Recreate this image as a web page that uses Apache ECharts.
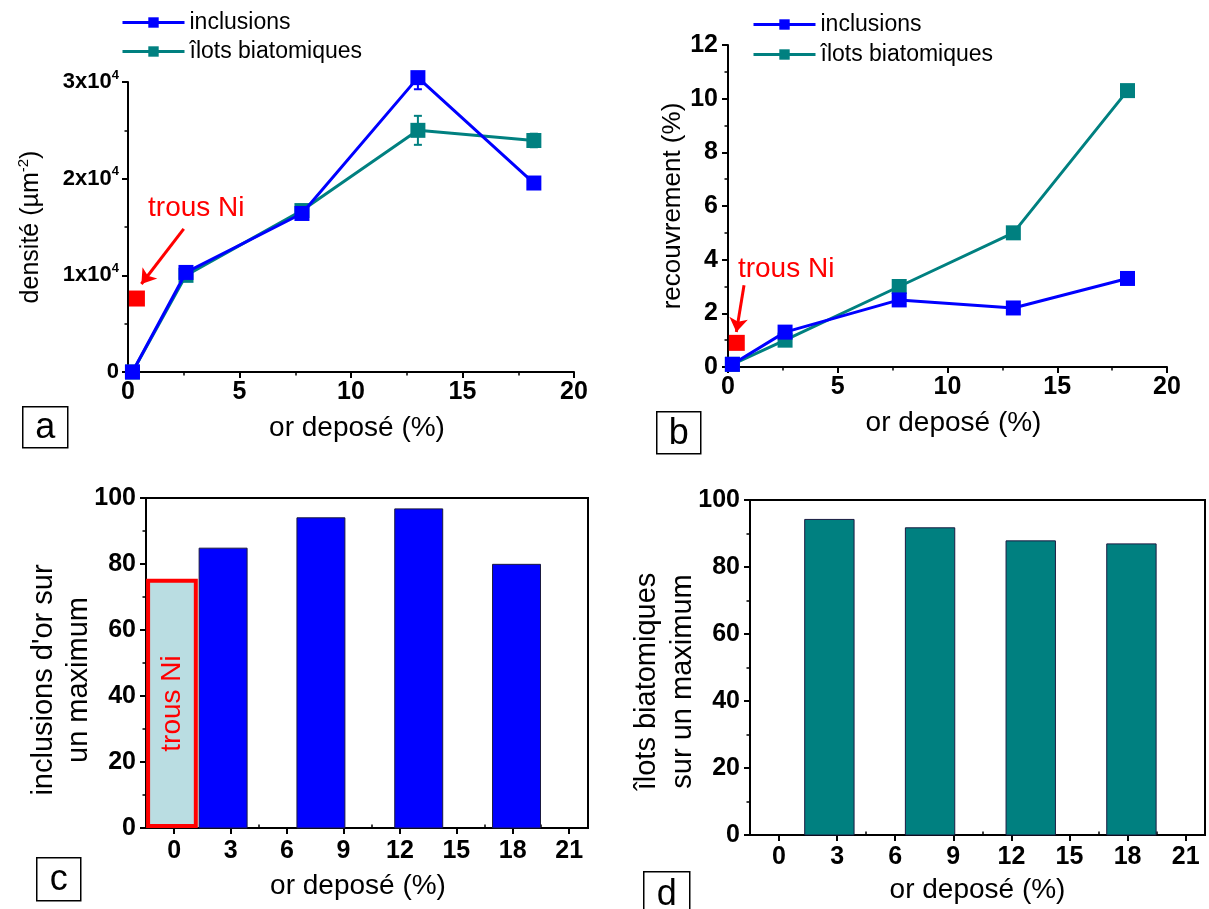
<!DOCTYPE html>
<html>
<head>
<meta charset="utf-8">
<script src="https://cdn.jsdelivr.net/npm/echarts@6/dist/echarts.min.js"></script>
<style>
  html, body { margin: 0; padding: 0; background: #fff; }
  #chart { width: 1209px; height: 909px; }
</style>
</head>
<body>
<div id="chart"></div>
<script>
// données
const X_DEPOT = [0.2, 2.6, 7.8, 13, 18.2]
const DENS_INCL = [0, 10300, 16400, 30450, 19550]
const DENS_ILOT = [0, 10000, 16700, 25000, 23950]
const DENS_INCL_ERR = [0, 300, 500, 1200, 400]
const DENS_ILOT_ERR = [0, 300, 600, 1500, 700]
const DENS_TROUS = [0.4, 7600]
const REC_INCL = [0.1, 1.3, 2.5, 2.2, 3.3]
const REC_ILOT = [0.1, 1.0, 3.0, 5.0, 10.3]
const REC_TROUS = [0.4, 0.9]

const BAR_X = [2.6, 7.8, 13, 18.2]
const INCL_MAX = [84.8, 94.0, 96.7, 79.9]
const ILOT_MAX = [94.2, 91.7, 87.8, 86.9]
const TROUS_MAX = [-0.12, 75.5]
const BAR_TICKS = [0, 3, 6, 9, 12, 15, 18, 21]
const BAR_MINOR = [1.5, 4.5, 7.5, 10.5, 13.5, 16.5, 19.5]

// annotations "trous Ni" (coordonnées en unités de données)
const LABEL_A = [0.9, 16900]
const ARROW_A = [[2.5, 14800], [0.6, 9100]]
const LABEL_B = [0.45, 3.65]
const ARROW_B = [[0.73, 3.05], [0.38, 1.3]]

const SERIES_NAMES = ['inclusions', 'îlots biatomiques']

const FONT = "'Liberation Sans', Arial, sans-serif"
const BLUE = '#0000ff'
const TEAL = '#008080'
const RED = '#ff0000'
const BAR_W = 2.55
const TROUS_W = 2.75

const pts = (xs, ys) => xs.map((x, i) => [x, ys[i]])
const errs = (xs, ys, es) => xs.map((x, i) => [x, ys[i] - es[i], ys[i] + es[i]])

const tickLabel = { color: '#000', fontFamily: FONT, fontWeight: 'bold', fontSize: 25, margin: 10 }
const axisName = { color: '#000', fontFamily: FONT, fontSize: 28 }

function valueAxis(extra) {
  return Object.assign({
    type: 'value',
    axisLine: { show: true, onZero: false, lineStyle: { color: '#000', width: 2 } },
    axisTick: { show: true, inside: false, length: 6, lineStyle: { color: '#000', width: 2 } },
    minorTick: { show: true, splitNumber: 2, length: 3.5, lineStyle: { color: '#000', width: 1.5 } },
    splitLine: { show: false },
    minorSplitLine: { show: false },
    axisLabel: tickLabel,
    nameLocation: 'middle',
    nameTextStyle: axisName
  }, extra)
}

function lineSeries(name, color, data, xi, z) {
  return {
    type: 'line', name, xAxisIndex: xi, yAxisIndex: xi, data,
    symbol: 'rect', symbolSize: 15, clip: false, z,
    lineStyle: { color, width: 3 },
    itemStyle: { color },
    emphasis: { disabled: true }
  }
}

function errorSeries(color, data, xi) {
  return {
    type: 'custom', xAxisIndex: xi, yAxisIndex: xi, data, clip: true, z: 1,
    renderItem: (params, api) => {
      const lo = api.coord([api.value(0), api.value(1)])
      const hi = api.coord([api.value(0), api.value(2)])
      const st = { stroke: color, lineWidth: 2 }
      return {
        type: 'group',
        children: [
          { type: 'line', shape: { x1: lo[0], y1: lo[1], x2: hi[0], y2: hi[1] }, style: st },
          { type: 'line', shape: { x1: lo[0] - 4, y1: lo[1], x2: lo[0] + 4, y2: lo[1] }, style: st },
          { type: 'line', shape: { x1: hi[0] - 4, y1: hi[1], x2: hi[0] + 4, y2: hi[1] }, style: st }
        ]
      }
    }
  }
}

function trousSeries(point, label, arrow, xi) {
  return {
    type: 'scatter', name: 'trous Ni', xAxisIndex: xi, yAxisIndex: xi,
    data: [point], symbol: 'rect', symbolSize: 16, z: 5,
    itemStyle: { color: RED, opacity: 1 },
    markLine: {
      silent: true, symbol: ['none', 'arrow'], symbolSize: 14,
      lineStyle: { color: RED, width: 3, type: 'solid' },
      label: { show: false },
      data: [[{ coord: arrow[0] }, { coord: arrow[1] }]]
    },
    markPoint: {
      silent: true, symbol: 'circle', symbolSize: 0,
      label: { show: true, position: 'right', distance: 0, formatter: 'trous Ni', color: RED, fontFamily: FONT, fontSize: 28 },
      data: [{ coord: label }]
    }
  }
}

function barSeries(color, xs, vals, xi, yi) {
  return {
    type: 'custom', xAxisIndex: xi, yAxisIndex: yi, data: pts(xs, vals),
    renderItem: (params, api) => {
      const x = api.value(0)
      const p0 = api.coord([x - BAR_W / 2, api.value(1)])
      const p1 = api.coord([x + BAR_W / 2, 0])
      return {
        type: 'rect',
        shape: { x: p0[0], y: p0[1], width: p1[0] - p0[0], height: p1[1] - p0[1] },
        style: { fill: color, stroke: '#1a1a40', lineWidth: 1 }
      }
    }
  }
}

function panelLetter(letter, x, y, w, h) {
  return {
    type: 'group', left: x, top: y,
    children: [
      { type: 'rect', shape: { x: 0, y: 0, width: w, height: h }, style: { fill: '#fff', stroke: '#000', lineWidth: 1.5 } },
      { type: 'text', x: w / 2, y: h / 2 + 1, style: { text: letter, fontFamily: FONT, fontSize: 36, fill: '#000', align: 'center', verticalAlign: 'middle' } }
    ]
  }
}

function legendAt(left, top, gap) {
  return {
    data: SERIES_NAMES, left, top, orient: 'vertical', padding: 0,
    itemWidth: 62, itemHeight: 13, itemGap: gap, selectedMode: false,
    lineStyle: { width: 3 },
    textStyle: { fontFamily: FONT, fontSize: 23, color: '#000' }
  }
}

const option = {
  animation: false,
  backgroundColor: '#fff',
  textStyle: { fontFamily: FONT },
  grid: [
    { left: 128, top: 82, width: 446, height: 290 },
    { left: 728, top: 45, width: 439, height: 322 },
    { left: 146, top: 498, width: 442, height: 330, show: true, borderColor: '#000', borderWidth: 2, backgroundColor: 'transparent' },
    { left: 750, top: 500, width: 455, height: 335, show: true, borderColor: '#000', borderWidth: 2, backgroundColor: 'transparent' }
  ],
  legend: [legendAt(121, 11, 6), legendAt(752, 13, 7)],
  xAxis: [
    valueAxis({
      gridIndex: 0, min: 0, max: 20, interval: 5, name: 'or deposé (%)', nameGap: 42,
      nameTextStyle: Object.assign({}, axisName, { padding: [0, 0, 0, 12] }),
      axisLabel: Object.assign({}, tickLabel, { margin: 8 })
    }),
    valueAxis({
      gridIndex: 1, min: 0, max: 20, interval: 5, name: 'or deposé (%)', nameGap: 42,
      nameTextStyle: Object.assign({}, axisName, { padding: [0, 0, 0, 12] }),
      axisLabel: Object.assign({}, tickLabel, { margin: 8 })
    }),
    valueAxis({
      gridIndex: 2, min: -1.5, max: 22, name: 'or deposé (%)', nameGap: 44,
      nameTextStyle: Object.assign({}, axisName, { padding: [0, 18, 0, 0] }),
      minorTick: { show: false },
      axisTick: { show: true, length: 6, customValues: BAR_TICKS, lineStyle: { color: '#000', width: 2 } },
      axisLabel: Object.assign({}, tickLabel, { margin: 11, customValues: BAR_TICKS })
    }),
    valueAxis({
      gridIndex: 2, min: -1.5, max: 22, axisLine: { show: false }, minorTick: { show: false },
      axisTick: { show: true, length: 3.5, customValues: BAR_MINOR, lineStyle: { color: '#000', width: 1.5 } },
      axisLabel: { show: false }
    }),
    valueAxis({
      gridIndex: 3, min: -1.5, max: 22, name: 'or deposé (%)', nameGap: 41,
      minorTick: { show: false },
      axisTick: { show: true, length: 6, customValues: BAR_TICKS, lineStyle: { color: '#000', width: 2 } },
      axisLabel: Object.assign({}, tickLabel, { margin: 10, customValues: BAR_TICKS })
    }),
    valueAxis({
      gridIndex: 3, min: -1.5, max: 22, axisLine: { show: false }, minorTick: { show: false },
      axisTick: { show: true, length: 3.5, customValues: BAR_MINOR, lineStyle: { color: '#000', width: 1.5 } },
      axisLabel: { show: false }
    })
  ],
  yAxis: [
    valueAxis({
      gridIndex: 0, min: 0, max: 30000, interval: 10000,
      name: '{t|densité (µm}{s|-2}{t|)}', nameGap: 82, nameRotate: 90,
      nameTextStyle: Object.assign({}, axisName, {
        rich: {
          t: { fontFamily: FONT, fontSize: 25, color: '#000' },
          s: { fontFamily: FONT, fontSize: 15, color: '#000', verticalAlign: 'top', lineHeight: 30 }
        }
      }),
      axisLabel: Object.assign({}, tickLabel, {
        margin: 9,
        formatter: v => v === 0 ? '{b|0}' : '{b|' + (v / 10000) + 'x10}{e|4}',
        rich: {
          b: { fontFamily: FONT, fontWeight: 'bold', fontSize: 22, color: '#000', lineHeight: 27 },
          e: { fontFamily: FONT, fontWeight: 'bold', fontSize: 13, color: '#000', verticalAlign: 'top', lineHeight: 27 }
        }
      })
    }),
    valueAxis({
      gridIndex: 1, min: 0, max: 12, interval: 2, name: 'recouvrement (%)', nameGap: 42, nameRotate: 90,
      nameTextStyle: Object.assign({}, axisName, { fontSize: 26 })
    }),
    valueAxis({
      gridIndex: 2, min: 0, max: 100, interval: 20, name: "inclusions d'or sur\nun maximum", nameGap: 50, nameRotate: 90,
      nameMoveOverlap: false,
      nameTextStyle: Object.assign({}, axisName, { fontSize: 29, lineHeight: 35, padding: [0, 34, 0, 0] })
    }),
    valueAxis({
      gridIndex: 3, min: 0, max: 100, interval: 20, name: 'îlots biatomiques\nsur un maximum', nameGap: 49, nameRotate: 90,
      nameMoveOverlap: false,
      nameTextStyle: Object.assign({}, axisName, { fontSize: 29, lineHeight: 36, padding: [0, 28, 0, 0] })
    })
  ],
  series: [
    // a : densité
    errorSeries(BLUE, errs(X_DEPOT, DENS_INCL, DENS_INCL_ERR), 0),
    errorSeries(TEAL, errs(X_DEPOT, DENS_ILOT, DENS_ILOT_ERR), 0),
    lineSeries('îlots biatomiques', TEAL, pts(X_DEPOT, DENS_ILOT), 0, 2),
    lineSeries('inclusions', BLUE, pts(X_DEPOT, DENS_INCL), 0, 3),
    trousSeries(DENS_TROUS, LABEL_A, ARROW_A, 0),
    // b : recouvrement
    lineSeries('îlots biatomiques', TEAL, pts(X_DEPOT, REC_ILOT), 1, 2),
    lineSeries('inclusions', BLUE, pts(X_DEPOT, REC_INCL), 1, 3),
    trousSeries(REC_TROUS, LABEL_B, ARROW_B, 1),
    // c : inclusions sur un maximum
    barSeries(BLUE, BAR_X, INCL_MAX, 2, 2),
    {
      type: 'custom', xAxisIndex: 2, yAxisIndex: 2, data: [TROUS_MAX], z: 3,
      renderItem: (params, api) => {
        const x = api.value(0)
        const p0 = api.coord([x - TROUS_W / 2, api.value(1)])
        const p1 = api.coord([x + TROUS_W / 2, 0])
        const w = p1[0] - p0[0]
        const h = p1[1] - p0[1]
        return {
          type: 'group',
          children: [
            { type: 'rect', shape: { x: p0[0] + 2, y: p0[1] + 2, width: w - 4, height: h - 4 }, style: { fill: '#badde2', stroke: RED, lineWidth: 4 } },
            {
              type: 'text', x: p0[0] + w / 2, y: api.coord([x, api.value(1) / 2])[1], rotation: Math.PI / 2,
              style: { text: 'trous Ni', fill: RED, fontFamily: FONT, fontSize: 28, align: 'center', verticalAlign: 'middle' }
            }
          ]
        }
      }
    },
    // d : îlots sur un maximum
    barSeries(TEAL, BAR_X, ILOT_MAX, 4, 3)
  ],
  graphic: [
    panelLetter('a', 22, 406, 45, 41),
    panelLetter('b', 656, 411, 44, 42),
    panelLetter('c', 36, 857, 44, 43),
    panelLetter('d', 643, 871, 46, 44)
  ]
}

const chart = echarts.init(document.getElementById('chart'))
chart.setOption(option)
</script>
</body>
</html>
